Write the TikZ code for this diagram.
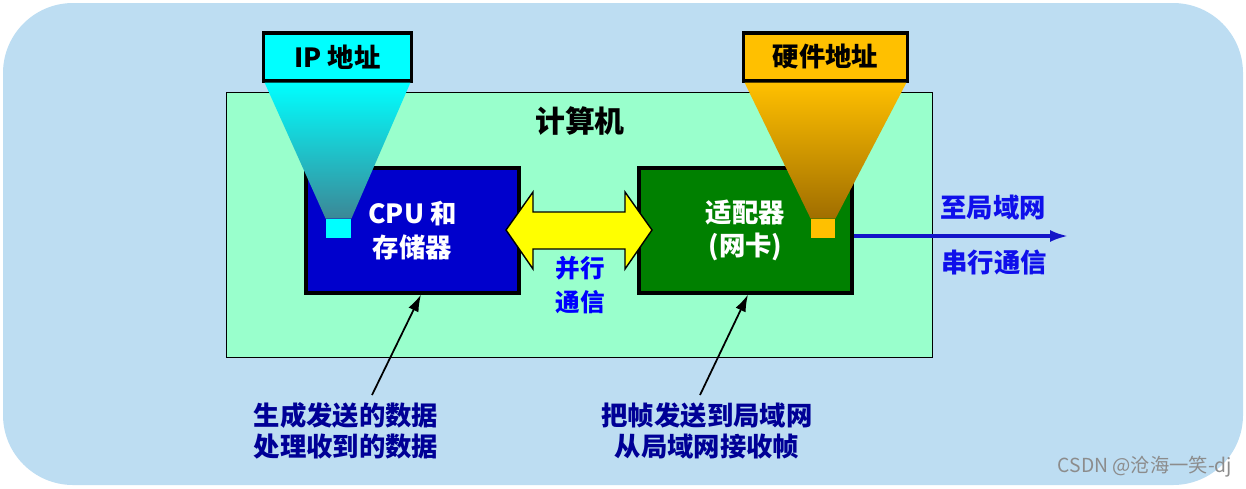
\documentclass[tikz,border=0pt]{standalone}
\usepackage{fontspec}
\setmainfont{Noto Sans CJK SC}
\usepackage{tikz}
\usetikzlibrary{arrows.meta}
\definecolor{bgblue}{RGB}{189,221,242}
\definecolor{compgreen}{RGB}{153,255,204}
\definecolor{cpublue}{RGB}{0,0,204}
\definecolor{nicgreen}{RGB}{0,128,0}
\definecolor{ipcyan}{RGB}{0,255,255}
\definecolor{macgold}{RGB}{255,192,0}
\definecolor{linkyellow}{RGB}{255,255,0}
\definecolor{ipdark}{RGB}{60,135,150}
\definecolor{golddark}{RGB}{160,110,0}
\definecolor{textblue}{RGB}{15,15,235}
\definecolor{parblue}{RGB}{0,0,255}
\definecolor{lineblue}{RGB}{20,20,200}
\definecolor{navy}{RGB}{0,0,150}
\definecolor{wmgray}{RGB}{140,140,140}

\begin{document}
\begin{tikzpicture}[x=0.02cm,y=-0.02cm,>={Latex[length=0.34cm,width=0.22cm]},
		unit/.style={draw=black,line width=1.8pt,minimum width=4.26cm,minimum height=2.5cm,text=white,align=center,font=\fontsize{15}{19}\selectfont\bfseries},
		tagbox/.style={draw=black,line width=1.8pt,minimum height=0.96cm,font=\fontsize{15}{18}\selectfont\bfseries},
		port/.style={minimum width=0.5cm,minimum height=0.38cm,inner sep=0pt},
		bluetxt/.style={text=textblue,align=center,font=\fontsize{15}{19}\selectfont\bfseries},
		note/.style={text=navy,align=center,font=\fontsize{15}{18}\selectfont\bfseries}]
		\useasboundingbox (0,0) rectangle (1246,488);
		\fill [bgblue, rounded corners=1.4cm] (3,3) rectangle (1243,485);
		% computer
		\node [draw=black, line width=0.5pt, fill=compgreen, minimum width=14.12cm, minimum height=5.3cm] (comp) at (579.5,224.5) {};
		\node [font=\fontsize{17}{20}\selectfont\bfseries] (title) at (580,121) {计算机};
		\node [unit, fill=cpublue] (cpu) at (412.5,230.5) {CPU 和\\存储器};
		\node [unit, fill=nicgreen] (nic) at (745.5,230.5) {适配器\\(网卡)};
		% parallel link
		\draw [fill=linkyellow, line width=0.8pt] (506,230) -- (533,192) -- (533,212) -- (625,212) -- (625,192) -- (652,230)
			-- (625,269) -- (625,249) -- (533,249) -- (533,269) -- cycle;
		\node [bluetxt, text=parblue, font=\fontsize{14}{19}\selectfont\bfseries] (par) at (580,285) {并行\\通信};
		% addresses
		\node [tagbox, fill=ipcyan, minimum width=2.96cm] (ip) at (337.5,57) {IP 地址};
		\node [tagbox, fill=macgold, minimum width=3.28cm] (mac) at (825.5,57) {硬件地址};
		\node [port, fill=ipcyan] (ipport) at (338.5,228.5) {};
		\node [port, fill=macgold, minimum width=0.48cm] (macport) at (823,228.5) {};
		\shade [top color=ipcyan, bottom color=ipdark] ([xshift=1.5pt]ip.south west) -- ([xshift=-1.5pt]ip.south east)
			-- (ipport.north east) -- (ipport.north west) -- cycle;
		\shade [top color=macgold, bottom color=golddark] ([xshift=1.5pt]mac.south west) -- ([xshift=-1.5pt]mac.south east)
			-- (macport.north east) -- (macport.north west) -- cycle;
		% serial link
		\coordinate (lan) at (1068,236);
		\draw [->, lineblue, line width=1.8pt, >={Latex[length=0.36cm,width=0.24cm]}] (nic.east |- lan) -- (lan);
		\node [bluetxt] (tolan) at (993,207) {至局域网};
		\node [bluetxt] (serial) at (994,262) {串行通信};
		% notes
		\node [note] (cpunote) at (346,431) {生成发送的数据\\处理收到的数据};
		\node [note] (nicnote) at (707,431) {把帧发送到局域网\\从局域网接收帧};
		\coordinate (cputail) at (372,395);
		\coordinate (nictail) at (700,395);
		\draw [->, line width=1pt] (cputail) -- ([xshift=0.17cm]cpu.south);
		\draw [->, line width=1pt] (nictail) -- ([xshift=0.05cm]nic.south);
		\node [text=wmgray, font=\fontsize{11}{13}\selectfont] (mark) at (1145,467) {CSDN @沧海一笑-dj};
\end{tikzpicture}
\end{document}
